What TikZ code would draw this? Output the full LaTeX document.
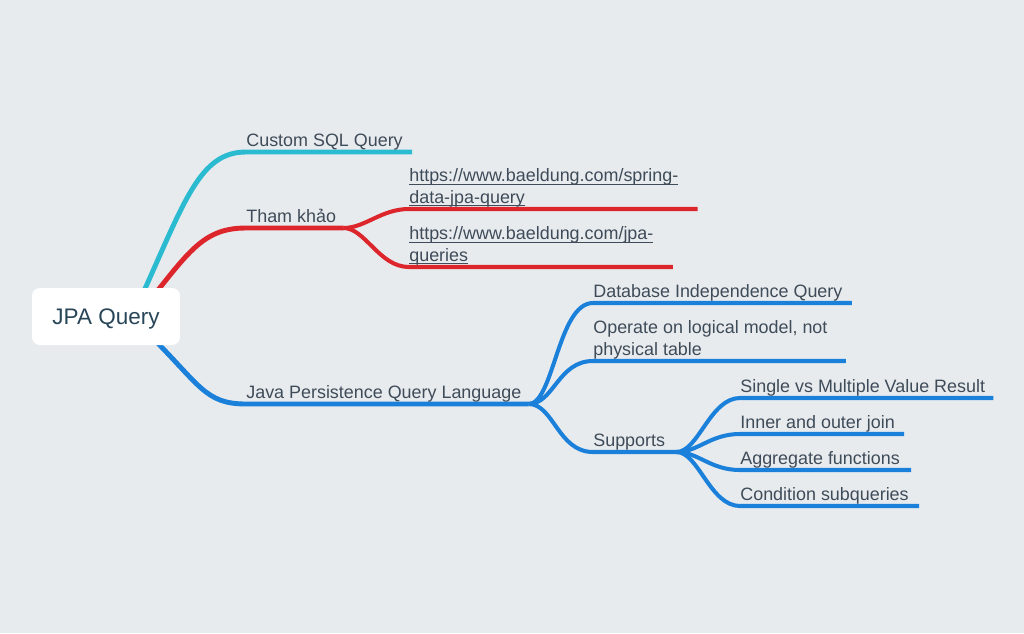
\documentclass[tikz,border=0pt]{standalone}
\usepackage{fontspec}
\setmainfont{Liberation Sans}
\usetikzlibrary{calc}
\definecolor{canvas}{RGB}{232,235,238}
\definecolor{ink}{RGB}{62,75,88}
\definecolor{rootink}{RGB}{40,70,88}
\definecolor{cyanbr}{RGB}{43,187,208}
\definecolor{redbr}{RGB}{220,38,44}
\definecolor{bluebr}{RGB}{26,128,217}
\newcommand{\linkline}[1]{\underline{\smash{#1}}}
\pgfdeclarelayer{bg}
\pgfsetlayers{bg,main}
\tikzset{
  x=0.02cm, y=-0.02cm,
  line cap=round,
}
\tikzstyle{branch}=[line width=2.8pt]
\tikzstyle{twig}=[line width=2.3pt]
\tikzstyle{topic}=[anchor=south west,inner xsep=0pt,inner ysep=0.8pt,
  text depth=0.22em,align=left,text=ink,font=\fontsize{10.2}{12.5}\selectfont]
\tikzstyle{central}=[fill=white,rounded corners=4.5pt,minimum width=2.96cm,
  minimum height=1.14cm,text depth=0pt,text=rootink,font=\fontsize{12.8}{15}\selectfont]

\begin{document}
\begin{tikzpicture}
  \useasboundingbox (0,0) rectangle (1024,633);
  \node[central] (root) at (106,316.5) {JPA Query};
  \node[topic] (csq) at (246,152) {Custom SQL Query};
  \node[topic] (tham) at (246,228) {Tham khảo};
  \node[topic] (link1) at (409,209) {\linkline{https://www.baeldung.com/spring-}\\\linkline{data-jpa-query}};
  \node[topic] (link2) at (409,267) {\linkline{https://www.baeldung.com/jpa-}\\\linkline{queries}};
  \node[topic] (jpql) at (246,404) {Java Persistence Query Language};
  \node[topic] (indep) at (593,303) {Database Independence Query};
  \node[topic] (logical) at (593,361) {Operate on logical model, not\\physical table};
  \node[topic] (supports) at (593,452) {Supports};
  \node[topic] (single) at (740,398) {Single vs Multiple Value Result};
  \node[topic] (join) at (740,434) {Inner and outer join};
  \node[topic] (aggr) at (740,470) {Aggregate functions};
  \node[topic] (subq) at (740,506) {Condition subqueries};
  \foreach \n/\p in {csq/9,tham/7,link1/19,link2/19,jpql/7,indep/9,logical/18,
      supports/11,single/8,join/9,aggr/11,subq/10}
    \coordinate (\n-e) at ($(\n.south east)+(\p,0)$);
  \begin{pgfonlayer}{bg}
    \fill[canvas] (0,0) rectangle (1024,633);
    \draw[branch,cyanbr] ($(root.north)+(35,10)$) .. controls (185,200) and (200,152) .. (csq.south west) -- (csq-e);
    \draw[branch,redbr] ($(root.north)+(46,10)$) .. controls (190,250) and (205,228) .. (tham.south west) -- (tham-e);
    \draw[twig,redbr] (tham-e) .. controls +(22,0) and +(-28,0) .. (link1.south west) -- (link1-e);
    \draw[twig,redbr] (tham-e) .. controls +(22,0) and +(-30,0) .. (link2.south west) -- (link2-e);
    \draw[branch,bluebr] ($(root.south)+(44,-10)$) .. controls (200,385) and (205,404) .. (jpql.south west) -- (jpql-e);
    \draw[twig,bluebr] (jpql-e) .. controls +(25,0) and +(-35,0) .. (indep.south west) -- (indep-e);
    \draw[twig,bluebr] (jpql-e) .. controls +(25,0) and +(-35,0) .. (logical.south west) -- (logical-e);
    \draw[twig,bluebr] (jpql-e) .. controls +(25,0) and +(-35,0) .. (supports.south west) -- (supports-e);
    \foreach \n in {single,join,aggr,subq}
      \draw[twig,bluebr] (supports-e) .. controls +(22,0) and +(-30,0) .. (\n.south west) -- (\n-e);
  \end{pgfonlayer}
\end{tikzpicture}
\end{document}
